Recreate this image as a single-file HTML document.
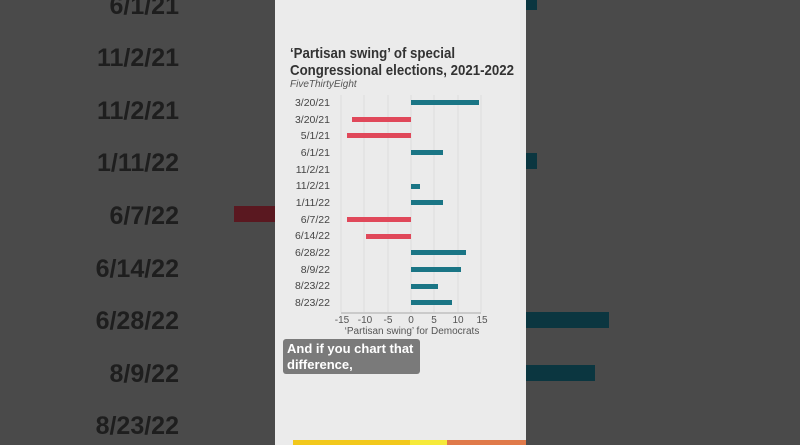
<!DOCTYPE html>
<html><head><style>
body{margin:0;width:800px;height:445px;overflow:hidden;background:#4a4a4a;font-family:"Liberation Sans",sans-serif;position:relative}
.a{position:absolute}
</style></head><body>
<svg class="a" style="left:0;top:0" width="800" height="445">
<g font-family="Liberation Sans" font-size="25" fill="#1e1e1e" text-anchor="end" font-weight="bold">
<text x="179" y="14">6/1/21</text><text x="179" y="66">11/2/21</text><text x="179" y="119">11/2/21</text>
<text x="179" y="171">1/11/22</text><text x="179" y="224">6/7/22</text><text x="179" y="277">6/14/22</text>
<text x="179" y="329">6/28/22</text><text x="179" y="382">8/9/22</text><text x="179" y="434">8/23/22</text>
</g>
<rect x="234" y="206" width="42" height="16" fill="#5a1820"/>
<rect x="526" y="0" width="11" height="10" fill="#0b3640"/>
<rect x="526" y="153" width="11" height="16" fill="#0b3640"/>
<rect x="526" y="312" width="83" height="16" fill="#0b3640"/>
<rect x="526" y="365" width="69" height="16" fill="#0b3640"/>
<rect x="275" y="0" width="251" height="445" fill="#ebebeb"/>
<rect x="293" y="440" width="117" height="5" fill="#f2c81c"/>
<rect x="410" y="440" width="37" height="5" fill="#f6ea3a"/>
<rect x="447" y="440" width="79" height="5" fill="#e07a4a"/>
<text x="290" y="58" font-size="15" font-weight="bold" fill="#333" textLength="165" lengthAdjust="spacingAndGlyphs">‘Partisan swing’ of special</text>
<text x="290" y="75" font-size="15" font-weight="bold" fill="#333" textLength="224" lengthAdjust="spacingAndGlyphs">Congressional elections, 2021-2022</text>
<text x="290" y="87" font-size="10" font-style="italic" fill="#555">FiveThirtyEight</text>
<g stroke="#dcdcdc" stroke-width="1">
<line x1="341" y1="95" x2="341" y2="312"/><line x1="364" y1="95" x2="364" y2="312"/><line x1="388" y1="95" x2="388" y2="312"/>
<line x1="411" y1="95" x2="411" y2="312"/><line x1="434" y1="95" x2="434" y2="312"/><line x1="458" y1="95" x2="458" y2="312"/><line x1="481" y1="95" x2="481" y2="312"/>
</g>
<line x1="341" y1="313" x2="481" y2="313" stroke="#aaa"/>
<g font-size="10.5" fill="#444" text-anchor="end">
<text x="330" y="106">3/20/21</text><text x="330" y="123">3/20/21</text><text x="330" y="139">5/1/21</text>
<text x="330" y="156">6/1/21</text><text x="330" y="173">11/2/21</text><text x="330" y="189">11/2/21</text>
<text x="330" y="206">1/11/22</text><text x="330" y="223">6/7/22</text><text x="330" y="239">6/14/22</text>
<text x="330" y="256">6/28/22</text><text x="330" y="273">8/9/22</text><text x="330" y="289">8/23/22</text><text x="330" y="306">8/23/22</text>
</g>
<g fill="#1a7585">
<rect x="411" y="100" width="68" height="5"/><rect x="411" y="150" width="32" height="5"/>
<rect x="411" y="184" width="9" height="5"/><rect x="411" y="200" width="32" height="5"/>
<rect x="411" y="250" width="55" height="5"/><rect x="411" y="267" width="50" height="5"/>
<rect x="411" y="284" width="27" height="5"/><rect x="411" y="300" width="41" height="5"/>
</g>
<g fill="#e0485a">
<rect x="352" y="117" width="59" height="5"/><rect x="347" y="133" width="64" height="5"/>
<rect x="347" y="217" width="64" height="5"/><rect x="366" y="234" width="45" height="5"/>
</g>
<g font-size="10" fill="#555" text-anchor="middle">
<text x="342" y="323">-15</text><text x="365" y="323">-10</text><text x="388" y="323">-5</text><text x="411" y="323">0</text>
<text x="434" y="323">5</text><text x="458" y="323">10</text><text x="482" y="323">15</text>
<text x="412" y="334">‘Partisan swing’ for Democrats</text>
</g>
<rect x="283" y="339" width="137" height="35" rx="3" fill="#7a7a7a"/>
<text x="287" y="353" font-size="13" font-weight="bold" fill="#fff">And if you chart that</text>
<text x="287" y="369" font-size="13" font-weight="bold" fill="#fff">difference,</text>
</svg>
</body></html>
